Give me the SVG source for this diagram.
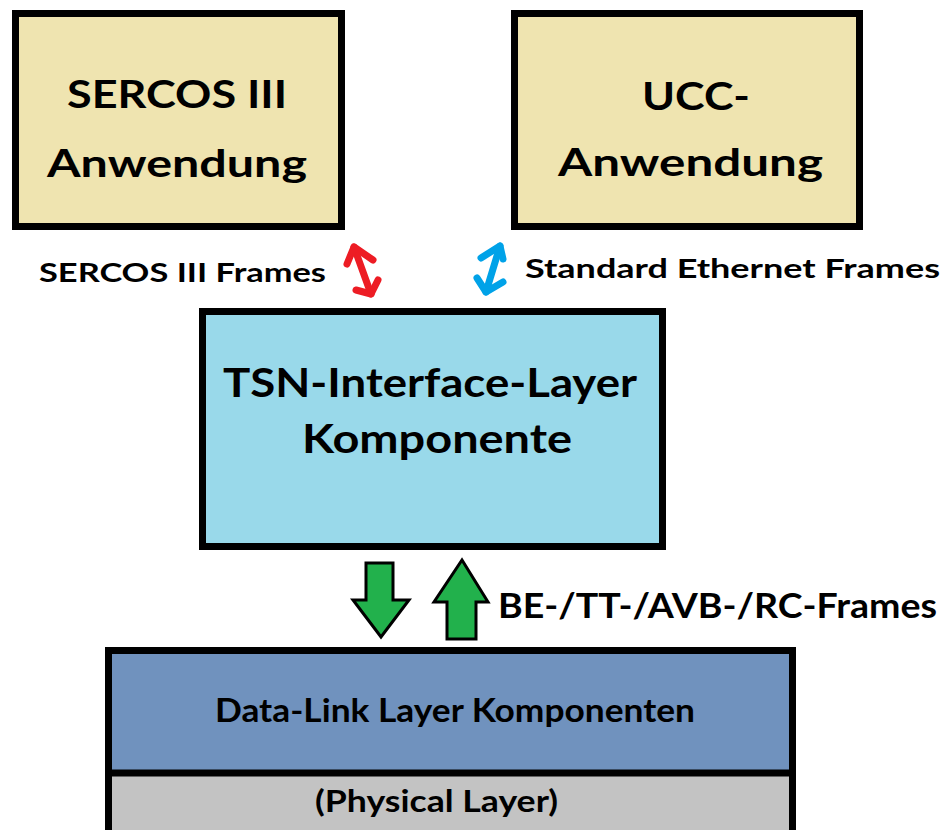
<svg xmlns="http://www.w3.org/2000/svg" width="950" height="830" viewBox="0 0 950 830">
  <style>
    .box { stroke: #000; stroke-width: 7; }
    .t { font-family: Lato, "Open Sans", "Liberation Sans", sans-serif; font-weight: 700; fill: #000; }
    .big { font-size: 38px; }
    .tsn { font-size: 40px; }
    .lbl { font-size: 27px; }
    .dbl { fill: none; stroke-width: 7; stroke-linecap: round; stroke-linejoin: round; }
    .blk { fill: #22b14c; stroke: #000; stroke-width: 3; stroke-linejoin: miter; }
  </style>
  <rect width="950" height="830" fill="#fff"/>

  <g id="sercos-app">
    <rect class="box" x="15.5" y="13.5" width="326" height="213" fill="#efe4b0"/>
    <text class="t big" x="67" y="108" textLength="220" lengthAdjust="spacingAndGlyphs">SERCOS III</text>
    <text class="t big" x="47" y="177" textLength="260" lengthAdjust="spacingAndGlyphs">Anwendung</text>
  </g>

  <g id="ucc-app">
    <rect class="box" x="514.5" y="13.5" width="345" height="213" fill="#efe4b0"/>
    <text class="t big" x="642" y="110" textLength="108" lengthAdjust="spacingAndGlyphs">UCC-</text>
    <text class="t big" x="558" y="176" textLength="265" lengthAdjust="spacingAndGlyphs">Anwendung</text>
  </g>

  <g id="tsn-layer">
    <rect class="box" x="202.5" y="311.5" width="460" height="235" fill="#99d9ea"/>
    <text class="t tsn" x="223" y="397" textLength="414" lengthAdjust="spacingAndGlyphs">TSN-Interface-Layer</text>
    <text class="t tsn" x="302" y="453" textLength="270" lengthAdjust="spacingAndGlyphs">Komponente</text>
  </g>

  <g id="data-link-layer">
    <rect class="box" x="108.5" y="650.5" width="684" height="200" fill="#7092be"/>
    <rect x="112" y="776" width="677" height="60" fill="#c3c3c3"/>
    <line x1="108" y1="773" x2="793" y2="773" stroke="#000" stroke-width="7"/>
    <text class="t" font-size="33" x="215" y="722" textLength="480" lengthAdjust="spacingAndGlyphs">Data-Link Layer Komponenten</text>
    <text class="t" font-size="30" x="315" y="812" textLength="243" lengthAdjust="spacingAndGlyphs">(Physical Layer)</text>
  </g>

  <g id="connectors">
    <!-- application frames (hand-drawn double arrows) -->
    <g class="dbl" stroke="#ed1c24">
      <path d="M354 247 L371 294"/>
      <path d="M347 264 L354 247 L373 260"/>
      <path d="M356 290 L371 294 L378 280"/>
    </g>
    <g class="dbl" stroke="#00a2e8">
      <path d="M500 246 L486 292"/>
      <path d="M481 258 L500 246 L503 259"/>
      <path d="M477 278 L486 292 L503 282"/>
    </g>
    <!-- block arrows between TSN layer and data-link layer -->
    <path class="blk" d="M366 563 L393 563 L393 600 L409 600 L381 637 L353 600 L366 600 Z"/>
    <path class="blk" d="M462 560 L488 602 L476 602 L476 639 L447 639 L447 602 L434 602 Z"/>
  </g>

  <g id="labels">
    <text class="t lbl" x="39" y="282" textLength="287" lengthAdjust="spacingAndGlyphs">SERCOS III Frames</text>
    <text class="t lbl" x="525" y="278" textLength="415" lengthAdjust="spacingAndGlyphs">Standard Ethernet Frames</text>
    <text class="t" font-size="34" x="498" y="618" textLength="439" lengthAdjust="spacingAndGlyphs">BE-/TT-/AVB-/RC-Frames</text>
  </g>
</svg>
